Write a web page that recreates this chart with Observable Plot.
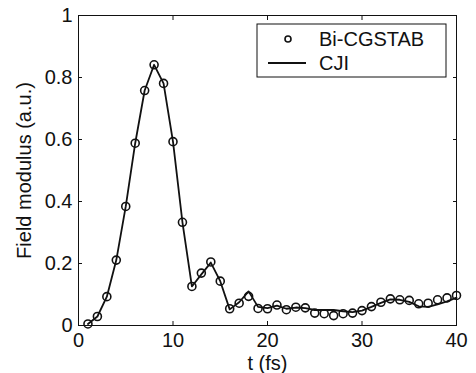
<!DOCTYPE html>
<html>
<head>
<meta charset="utf-8">
<script src="https://cdn.jsdelivr.net/npm/d3@7"></script>
<script src="https://cdn.jsdelivr.net/npm/@observablehq/plot@0.6"></script>
<style>
  html, body { margin: 0; padding: 0; background: #fff; }
  #chart { width: 476px; height: 373px; }
  svg { font-family: "Liberation Sans", Arial, sans-serif; }
</style>
</head>
<body>
<div id="chart"></div>
<script>
const t = [1,2,3,4,5,6,7,8,9,10,11,12,13,14,15,16,17,18,19,20,21,22,23,24,25,26,27,28,29,30,31,32,33,34,35,36,37,38,39,40];
const biCGSTAB = [0.005,0.029,0.093,0.211,0.384,0.588,0.758,0.841,0.781,0.593,0.333,0.126,0.169,0.205,0.143,0.054,0.072,0.094,0.055,0.054,0.066,0.051,0.059,0.057,0.040,0.038,0.032,0.038,0.040,0.048,0.061,0.075,0.086,0.083,0.081,0.070,0.072,0.083,0.089,0.097];
const cji = [0.005,0.029,0.093,0.211,0.384,0.588,0.758,0.841,0.781,0.593,0.333,0.126,0.165,0.203,0.143,0.052,0.075,0.110,0.060,0.056,0.064,0.054,0.058,0.056,0.050,0.050,0.050,0.046,0.043,0.048,0.060,0.073,0.084,0.083,0.076,0.062,0.060,0.068,0.078,0.090];
const xTicks = [0,10,20,30,40];
const yTicks = [0,0.2,0.4,0.6,0.8,1];
const seriesNames = ["Bi-CGSTAB", "CJI"];
const xLabel = "t (fs)";
const yLabel = "Field modulus (a.u.)";

const pts = t.map((x, i) => ({t: x, b: biCGSTAB[i], c: cji[i]}));
const ink = "#111";

const plot = Plot.plot({
  width: 476,
  height: 373,
  marginTop: 15,
  marginRight: 20,
  marginBottom: 48,
  marginLeft: 78,
  style: {fontFamily: '"Liberation Sans", Arial, sans-serif', fontSize: "20px", color: ink, background: "#fff"},
  x: {domain: [0, 40]},
  y: {domain: [0, 1]},
  marks: [
    Plot.frame({stroke: ink, strokeWidth: 1}),
    // inward ticks on all sides
    Plot.axisX({anchor: "bottom", ticks: xTicks, tickSize: -4, tickFormat: () => "", label: null, stroke: ink}),
    Plot.axisX({anchor: "top", ticks: xTicks, tickSize: -4, tickFormat: () => "", label: null, stroke: ink}),
    Plot.axisY({anchor: "left", ticks: yTicks, tickSize: -4, tickFormat: () => "", label: null, stroke: ink}),
    Plot.axisY({anchor: "right", ticks: yTicks, tickSize: -4, tickFormat: () => "", label: null, stroke: ink}),
    // labels
    Plot.axisX({anchor: "bottom", ticks: xTicks, tickSize: 0, tickPadding: 7, tickFormat: d => String(d),
      label: xLabel, labelAnchor: "center", labelArrow: "none", labelOffset: 44, fontSize: 20, fill: ink}),
    Plot.axisY({anchor: "left", ticks: yTicks, tickSize: 0, tickPadding: 6, tickFormat: d => String(d),
      label: yLabel, labelAnchor: "center", labelArrow: "none", labelOffset: 62, fontSize: 20, fill: ink}),
    Plot.line(pts, {x: "t", y: "c", stroke: ink, strokeWidth: 1.8}),
    Plot.dot(pts, {x: "t", y: "b", r: 4, stroke: ink, strokeWidth: 1.6, fill: "none"})
  ]
});

// legend
const svg = d3.select(plot);
const lg = svg.append("g").attr("font-family", '"Liberation Sans", Arial, sans-serif')
  .attr("font-size", 20).attr("fill", ink).attr("text-anchor", "start");
lg.append("rect").attr("x", 257).attr("y", 24).attr("width", 189).attr("height", 53)
  .attr("fill", "#fff").attr("stroke", ink).attr("stroke-width", 1);
lg.append("circle").attr("cx", 288).attr("cy", 39).attr("r", 3).attr("fill", "none").attr("stroke", ink).attr("stroke-width", 1.6);
lg.append("line").attr("x1", 268).attr("x2", 306).attr("y1", 63).attr("y2", 63).attr("stroke", ink).attr("stroke-width", 1.8);
lg.append("text").attr("x", 319).attr("y", 46).attr("text-anchor", "start").text(seriesNames[0]);
lg.append("text").attr("x", 319).attr("y", 70).attr("text-anchor", "start").text(seriesNames[1]);

document.getElementById("chart").appendChild(plot);
</script>
</body>
</html>
